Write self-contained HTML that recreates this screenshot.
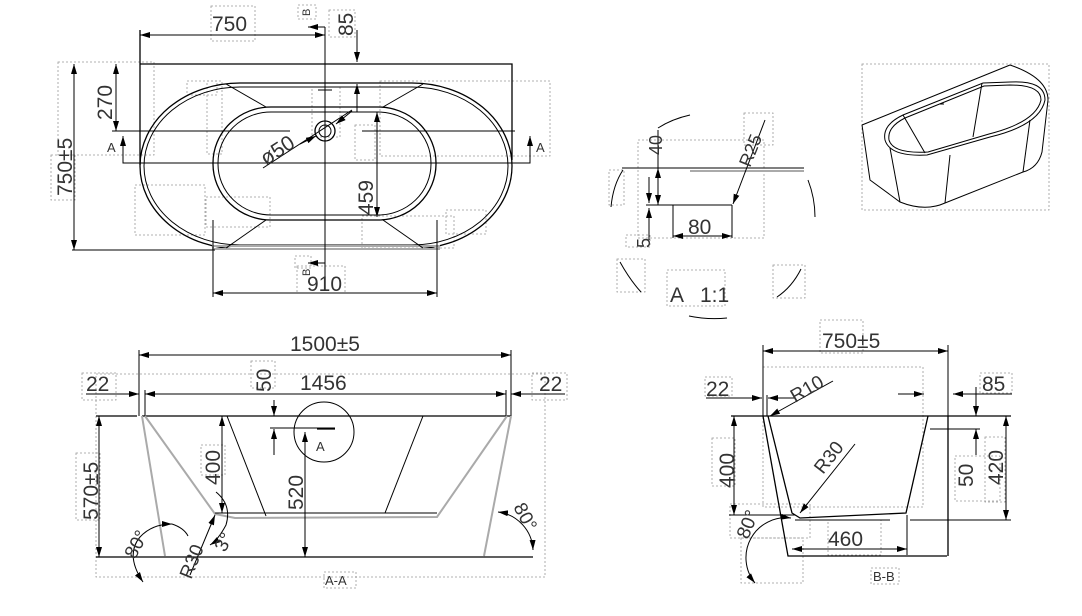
<!DOCTYPE html>
<html><head><meta charset="utf-8"><style>
html,body{margin:0;padding:0;background:#fff}
svg{display:block}
text{font-family:"Liberation Sans",sans-serif;fill:#333}
.d{fill:none;stroke:#999;stroke-width:0.8;stroke-dasharray:2,2}
.k{stroke:#000;stroke-width:1.3;fill:none}
.t{stroke:#000;stroke-width:1;fill:none}
.g{stroke:#aaa;stroke-width:2;fill:none}
.big{font-size:21px}
</style></head><body>
<svg width="1082" height="616" viewBox="0 0 1082 616" xmlns="http://www.w3.org/2000/svg">
<defs>
<marker id="a" viewBox="0 0 10 6" refX="10" refY="3" markerWidth="10" markerHeight="6" orient="auto-start-reverse" markerUnits="userSpaceOnUse"><path d="M0,0L10,3L0,6z" fill="#000"/></marker>
</defs>
<g>
<!-- ===== TOP VIEW ===== -->
<rect class="d" x="211" y="6" width="44" height="35"/>
<rect class="d" x="58" y="62" width="96" height="93"/>
<rect class="d" x="51" y="155" width="24" height="45"/>
<rect class="d" x="187" y="81" width="30" height="14"/>
<rect class="d" x="207" y="81" width="15" height="73"/>
<rect class="d" x="312" y="87" width="28" height="50"/>
<rect class="d" x="380" y="81" width="170" height="75"/>
<rect class="d" x="355" y="125" width="20" height="35"/>
<rect class="d" x="135" y="185" width="70" height="50"/>
<rect class="d" x="206" y="197" width="64" height="30"/>
<rect class="d" x="362" y="216" width="92" height="32"/>
<rect class="d" x="446" y="210" width="40" height="24"/>
<rect class="d" x="298" y="5" width="18" height="14"/>
<rect class="d" x="295" y="256" width="16" height="12"/>
<rect class="d" x="297" y="266" width="48" height="27"/>
<rect class="d" x="329" y="10" width="26" height="27"/>
<polyline class="k" points="140,165 140,30"/>
<polyline class="k" points="140,64 512,64 512,160"/>
<rect class="k" x="140" y="83" width="372" height="166" rx="100" ry="83"/>
<rect class="t" x="144" y="87" width="364" height="158" rx="96" ry="79" stroke="#666"/>
<rect class="g" x="213" y="246" width="226" height="3" stroke-width="1"/>
<rect class="k" x="213" y="107" width="223" height="113" rx="58" ry="56"/>
<rect class="t" x="218" y="112" width="213" height="103" rx="53" ry="51"/>
<line class="t" x1="265" y1="107" x2="383" y2="107"/>
<line class="t" x1="265" y1="220" x2="383" y2="220"/>
<line class="t" x1="226" y1="84" x2="266" y2="107"/>
<line class="t" x1="423" y1="84" x2="383" y2="107"/>
<line class="t" x1="226" y1="248" x2="266" y2="220"/>
<line class="t" x1="423" y1="248" x2="383" y2="220"/>
<line class="t" x1="318" y1="90" x2="332" y2="90"/>
<circle class="k" cx="325" cy="131" r="10" stroke-width="2"/>
<circle class="t" cx="325" cy="131" r="6"/>
<line class="t" x1="112" y1="131" x2="290" y2="131"/>
<line class="t" x1="362" y1="131" x2="515" y2="131"/>
<polyline class="t" points="123,141 123,163 530,163 530,141"/>
<line class="t" x1="123" y1="163" x2="123" y2="136" marker-end="url(#a)"/>
<line class="t" x1="530" y1="163" x2="530" y2="136" marker-end="url(#a)"/>
<text x="107" y="152" font-size="13">A</text>
<text x="536" y="152" font-size="13">A</text>
<line class="t" x1="325" y1="27" x2="325" y2="285" stroke="#555"/>
<line class="t" x1="325" y1="27" x2="308" y2="27" marker-end="url(#a)"/>
<line class="t" x1="325" y1="263" x2="308" y2="263" marker-end="url(#a)"/>
<text font-size="11" transform="translate(310,16) rotate(-90)">B</text>
<text font-size="11" transform="translate(310,276) rotate(-90)">B</text>
<line class="t" x1="140" y1="35" x2="325" y2="35" marker-start="url(#a)" marker-end="url(#a)"/>
<text x="212" y="31" class="big">750</text>
<line class="t" x1="357" y1="30" x2="357" y2="62" marker-end="url(#a)"/>
<line class="t" x1="357" y1="112" x2="357" y2="84" marker-end="url(#a)"/>
<line class="t" x1="357" y1="112" x2="377" y2="112"/>
<text class="big" transform="translate(353,36) rotate(-90)">85</text>
<line class="t" x1="116" y1="64" x2="116" y2="131" marker-start="url(#a)" marker-end="url(#a)"/>
<text class="big" transform="translate(112,120) rotate(-90)">270</text>
<line class="t" x1="74" y1="64" x2="74" y2="250" marker-start="url(#a)" marker-end="url(#a)"/>
<line class="t" x1="72" y1="250" x2="215" y2="250"/>
<text class="big" transform="translate(72,196) rotate(-90)">750±5</text>
<line class="t" x1="377" y1="112" x2="377" y2="217" marker-start="url(#a)" marker-end="url(#a)"/>
<text class="big" transform="translate(373,215) rotate(-90)">459</text>
<line class="t" x1="213" y1="220" x2="213" y2="297"/>
<line class="t" x1="437" y1="220" x2="437" y2="297"/>
<line class="t" x1="213" y1="293" x2="437" y2="293" marker-start="url(#a)" marker-end="url(#a)"/>
<text x="307" y="291" class="big">910</text>
<line class="t" x1="263" y1="168" x2="352" y2="110"/>
<line class="t" x1="300" y1="144" x2="316" y2="136" marker-end="url(#a)"/>
<line class="t" x1="352" y1="111" x2="336" y2="124" marker-end="url(#a)"/>
<text class="big" transform="translate(266,166) rotate(-33)">ø50</text>

<!-- ===== DETAIL A ===== -->
<rect class="d" x="638" y="140" width="126" height="98"/>
<rect class="d" x="744" y="113" width="29" height="32"/>
<rect class="d" x="609" y="170" width="15" height="35"/>
<rect class="d" x="626" y="235" width="24" height="12"/>
<rect class="d" x="617" y="259" width="28" height="33"/>
<rect class="d" x="667" y="270" width="58" height="36"/>
<rect class="d" x="773" y="265" width="32" height="33"/>
<path class="t" d="M611,207 Q613,185 623,170"/>
<path class="t" d="M658,128 Q672,119 690,115"/>
<path class="t" d="M808,180 Q815,198 815,217"/>
<path class="t" d="M620,262 Q630,280 641,292"/>
<path class="t" d="M801,269 Q792,287 777,297"/>
<path class="t" d="M689,316 Q708,320 727,318"/>
<line class="t" x1="622" y1="168" x2="804" y2="168"/>
<line class="g" x1="690" y1="171" x2="804" y2="171" stroke-width="1"/>
<line class="t" x1="646" y1="205" x2="732" y2="205"/>
<line class="t" x1="673" y1="205" x2="673" y2="238"/>
<line class="t" x1="732" y1="205" x2="732" y2="238"/>
<line class="t" x1="673" y1="236" x2="732" y2="236" marker-start="url(#a)" marker-end="url(#a)"/>
<text x="688" y="234" class="big">80</text>
<line class="t" x1="658" y1="130" x2="658" y2="168"/>
<line class="t" x1="658" y1="175" x2="658" y2="168" marker-end="url(#a)"/>
<line class="t" x1="658" y1="195" x2="658" y2="205" marker-end="url(#a)"/>
<line class="t" x1="658" y1="175" x2="658" y2="195"/>
<text font-size="18" transform="translate(662,155) rotate(-90)">40</text>
<line class="t" x1="649" y1="177" x2="649" y2="203" marker-end="url(#a)"/>
<line class="t" x1="649" y1="240" x2="649" y2="208" marker-end="url(#a)"/>
<text font-size="18" transform="translate(650,248) rotate(-90)">5</text>
<line class="t" x1="765" y1="120" x2="733" y2="204" marker-end="url(#a)"/>
<text font-size="18" transform="translate(750,168) rotate(-68)">R25</text>
<text x="670" y="302" class="big">A</text>
<text x="700" y="302" class="big">1:1</text>

<!-- ===== ISO ===== -->
<rect class="d" x="862" y="64" width="187" height="146"/>
<g class="t" stroke-width="0.9">
<line x1="862" y1="125" x2="1010" y2="65"/>
<path d="M1010,65 Q1048,78 1048,100 L1042,152 Q1038,168 1023,172 L945,203 Q925,212 900,202 L870,180 L862,125"/>
<path d="M927,155 L990,137 Q1040,125 1045,100 Q1045,80 1010,82 L983,83 L903,115 Q882,125 885,140 Q890,157 927,155 Z"/>
<path d="M928,152 L989,134 Q1036,122 1041,100 Q1041,85 1010,85 L984,86 L905,118 Q887,127 889,140 Q893,154 928,152 Z"/>
<line x1="890" y1="148" x2="900" y2="202"/>
<line x1="950" y1="155" x2="945" y2="203"/>
<line x1="1030" y1="120" x2="1023" y2="172"/>
<line x1="982" y1="83" x2="973" y2="137"/>
<line x1="903" y1="115" x2="925" y2="153"/>
<line x1="940" y1="104" x2="944" y2="104"/>
</g>

<!-- ===== A-A ===== -->
<rect class="d" x="96" y="374" width="449" height="203"/>
<rect class="d" x="82" y="373" width="34" height="27"/>
<rect class="d" x="532" y="373" width="35" height="27"/>
<rect class="d" x="251" y="361" width="24" height="27"/>
<rect class="d" x="201" y="445" width="24" height="30"/>
<rect class="d" x="76" y="453" width="24" height="67"/>
<rect class="d" x="324" y="572" width="32" height="16"/>
<line class="t" x1="139" y1="350" x2="139" y2="416"/>
<line class="t" x1="511" y1="350" x2="511" y2="416"/>
<line class="t" x1="139" y1="355" x2="511" y2="355" marker-start="url(#a)" marker-end="url(#a)"/>
<text x="290" y="351" class="big">1500±5</text>
<line class="t" x1="145" y1="390" x2="145" y2="416"/>
<line class="t" x1="506" y1="390" x2="506" y2="416"/>
<line class="t" x1="145" y1="394" x2="506" y2="394" marker-start="url(#a)" marker-end="url(#a)"/>
<text x="300" y="390" class="big">1456</text>
<line class="t" x1="86" y1="394" x2="139" y2="394" marker-end="url(#a)"/>
<line class="t" x1="565" y1="394" x2="511" y2="394" marker-end="url(#a)"/>
<text x="86" y="391" class="big">22</text>
<text x="539" y="391" class="big">22</text>
<line class="k" x1="96" y1="416" x2="137" y2="416"/>
<line class="k" x1="142" y1="416" x2="511" y2="416" stroke-width="2"/>
<polyline class="g" points="142,416 165,556"/>
<polyline class="g" points="511,416 484,556"/>
<polyline class="g" points="145,416 215,514 235,518 437,517 507,416"/>
<line class="t" x1="215" y1="513" x2="437" y2="513"/>
<line class="t" x1="227" y1="416" x2="266" y2="516"/>
<line class="t" x1="423" y1="416" x2="385" y2="513"/>
<line class="k" x1="96" y1="557" x2="533" y2="557"/>
<circle class="t" cx="324" cy="432" r="30"/>
<text x="316" y="451" font-size="13">A</text>
<line class="t" x1="270" y1="428" x2="335" y2="428"/>
<line class="k" x1="317" y1="429" x2="335" y2="429" stroke-width="2"/>
<line class="t" x1="274" y1="400" x2="274" y2="416" marker-end="url(#a)"/>
<line class="t" x1="274" y1="455" x2="274" y2="429" marker-end="url(#a)"/>
<text class="big" transform="translate(271,392) rotate(-90)">50</text>
<line class="t" x1="222" y1="416" x2="222" y2="513" marker-start="url(#a)" marker-end="url(#a)"/>
<text class="big" transform="translate(220,485) rotate(-90)">400</text>
<line class="t" x1="305" y1="432" x2="305" y2="557" marker-start="url(#a)" marker-end="url(#a)"/>
<text class="big" transform="translate(303,510) rotate(-90)">520</text>
<line class="t" x1="99" y1="416" x2="99" y2="557" marker-start="url(#a)" marker-end="url(#a)"/>
<text class="big" transform="translate(98,520) rotate(-90)">570±5</text>
<path class="t" d="M143,582 Q125,555 140,537 Q152,524 172,524" marker-start="url(#a)" marker-end="url(#a)"/>
<path class="t" d="M172,524 Q184,528 188,536"/>
<text font-size="19" transform="translate(135,560) rotate(-62)">80°</text>
<path class="t" d="M216,492 Q232,505 226,525 Q218,540 210,545" marker-end="url(#a)"/>
<text font-size="19" transform="translate(225,553) rotate(-62)">3°</text>
<line class="t" x1="190" y1="575" x2="215" y2="515" marker-end="url(#a)"/>
<text font-size="19" transform="translate(191,580) rotate(-68)">R30</text>
<path class="t" d="M498,512 A40,40 0 0 1 533,550" marker-start="url(#a)" marker-end="url(#a)"/>
<text font-size="19" transform="translate(513,507) rotate(62)">80°</text>
<text x="325" y="585" font-size="13">A-A</text>

<!-- ===== B-B ===== -->
<rect class="d" x="820" y="320" width="43" height="33"/>
<rect class="d" x="763" y="367" width="160" height="140"/>
<rect class="d" x="705" y="377" width="27" height="19"/>
<rect class="d" x="980" y="373" width="32" height="20"/>
<rect class="d" x="712" y="438" width="23" height="48"/>
<rect class="d" x="985" y="437" width="20" height="65"/>
<rect class="d" x="955" y="456" width="45" height="45"/>
<rect class="d" x="730" y="504" width="80" height="34"/>
<rect class="d" x="741" y="538" width="62" height="45"/>
<rect class="d" x="828" y="520" width="53" height="35"/>
<rect class="d" x="871" y="568" width="28" height="16"/>
<line class="t" x1="763" y1="345" x2="763" y2="416"/>
<line class="t" x1="948" y1="345" x2="948" y2="416"/>
<line class="t" x1="763" y1="351" x2="948" y2="351" marker-start="url(#a)" marker-end="url(#a)"/>
<text x="822" y="348" class="big">750±5</text>
<line class="k" x1="731" y1="416" x2="1011" y2="416" stroke-width="1.6"/>
<polyline class="k" points="763,416 788,556 947,556" stroke-width="1.8"/>
<line class="k" x1="948" y1="416" x2="948" y2="556" stroke-width="1.8"/>
<polyline class="k" points="768,416 792,513 800,518 906,513 928,416" stroke-width="1.8"/>
<line class="t" x1="795" y1="520" x2="890" y2="520"/>
<line class="t" x1="706" y1="398" x2="762" y2="398" marker-end="url(#a)"/>
<line class="t" x1="795" y1="398" x2="768" y2="398" marker-end="url(#a)"/>
<line class="t" x1="767" y1="395" x2="767" y2="416"/>
<text x="706" y="396" class="big">22</text>
<line class="t" x1="833" y1="381" x2="770" y2="416" marker-end="url(#a)"/>
<text font-size="19" transform="translate(795,403) rotate(-30)">R10</text>
<line class="t" x1="855" y1="444" x2="800" y2="513" marker-end="url(#a)"/>
<text font-size="19" transform="translate(823,475) rotate(-52)">R30</text>
<line class="t" x1="898" y1="394" x2="924" y2="394" marker-end="url(#a)"/>
<line class="t" x1="1012" y1="394" x2="953" y2="394" marker-end="url(#a)"/>
<text x="982" y="391" class="big">85</text>
<line class="t" x1="930" y1="429" x2="980" y2="429"/>
<line class="t" x1="976" y1="387" x2="976" y2="416" marker-end="url(#a)"/>
<line class="t" x1="976" y1="455" x2="976" y2="429" marker-end="url(#a)"/>
<text class="big" transform="translate(973,487) rotate(-90)">50</text>
<line class="t" x1="910" y1="520" x2="1011" y2="520"/>
<line class="t" x1="1006" y1="416" x2="1006" y2="520" marker-start="url(#a)" marker-end="url(#a)"/>
<text class="big" transform="translate(1003,485) rotate(-90)">420</text>
<line class="t" x1="729" y1="515" x2="795" y2="515"/>
<line class="t" x1="734" y1="416" x2="734" y2="515" marker-start="url(#a)" marker-end="url(#a)"/>
<text class="big" transform="translate(734,488) rotate(-90)">400</text>
<line class="t" x1="907" y1="515" x2="907" y2="555"/>
<line class="t" x1="792" y1="549" x2="907" y2="549" marker-start="url(#a)" marker-end="url(#a)"/>
<text x="828" y="546" class="big">460</text>
<path class="t" d="M755,583 A40,40 0 0 1 791,518" marker-start="url(#a)" marker-end="url(#a)"/>
<text font-size="19" transform="translate(748,540) rotate(-68)">80°</text>
<text x="873" y="581" font-size="13">B-B</text>
</g>
</svg>
</body></html>
